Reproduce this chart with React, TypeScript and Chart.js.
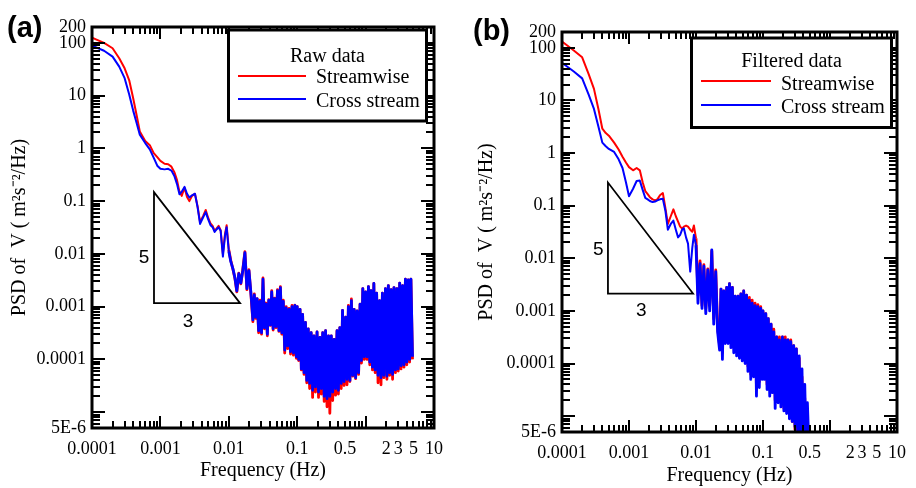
import React, { useEffect, useRef } from 'react';
import { Chart, registerables } from 'chart.js';

Chart.register(...registerables);

const SERIF = '"Liberation Serif", "Times New Roman", Times, serif';
const SANS = '"Liberation Sans", Arial, Helvetica, sans-serif';
const RED = '#ff0000';
const BLUE = '#0000ff';

// ---------- axis ticks ----------
const xTickValues = [1e-4, 1e-3, 0.01, 0.1, 0.5, 2, 3, 5, 10];
const xTickLabels = ['0.0001', '0.001', '0.01', '0.1', '0.5', '2', '3', '5', '10'];
const yTickValues = [5e-6, 1e-4, 1e-3, 0.01, 0.1, 1, 10, 100, 200];
const yTickLabels = ['5E-6', '0.0001', '0.001', '0.01', '0.1', '1', '10', '100', '200'];

// ---------- frequencies (Hz) ----------
const freqLow = [
  1e-4, 1.5e-4, 2e-4, 2.5e-4, 3e-4, 3.5e-4, 4e-4, 4.5e-4, 5e-4, 6e-4,
  7e-4, 8e-4, 9e-4, 1e-3, 1.15e-3, 1.3e-3, 1.45e-3, 1.6e-3, 1.75e-3, 1.9e-3,
  2.05e-3, 2.25e-3, 2.45e-3, 2.65e-3, 2.9e-3, 3.2e-3, 3.5e-3, 3.8e-3, 4.2e-3, 4.6e-3,
  5.0e-3, 5.4e-3, 5.8e-3, 6.2e-3, 6.6e-3, 7.1e-3, 7.6e-3, 8.2e-3, 8.8e-3, 9.3e-3,
];
const freqHigh = [
  0.0100, 0.0107, 0.0115, 0.0123, 0.0131, 0.0140, 0.0150, 0.0160, 0.0172, 0.0184,
  0.0197, 0.0210,
  0.0225, 0.0236, 0.0248, 0.0260, 0.0273, 0.0287, 0.0301, 0.0316, 0.0332, 0.0349,
  0.0366, 0.0384, 0.0404, 0.0424, 0.0445, 0.0467, 0.0490, 0.0515, 0.0541, 0.0568,
  0.0596, 0.0626, 0.0657, 0.0690, 0.0725, 0.0761, 0.0799, 0.0839, 0.0881, 0.0925,
  0.0971,
  0.100, 0.105, 0.110, 0.115, 0.120, 0.126, 0.132, 0.138, 0.145, 0.152,
  0.160, 0.168, 0.176, 0.185, 0.195, 0.205, 0.215, 0.225, 0.236, 0.248,
  0.260, 0.273, 0.287, 0.300, 0.315, 0.330, 0.347, 0.364, 0.382, 0.400,
  0.420, 0.440, 0.460, 0.485, 0.510, 0.535, 0.560, 0.590, 0.620, 0.650,
  0.680, 0.715, 0.750, 0.790, 0.830, 0.870, 0.910, 0.955, 1.00, 1.05,
  1.10, 1.15, 1.20, 1.26, 1.32, 1.38, 1.45, 1.52, 1.60, 1.68,
  1.76, 1.85, 1.95, 2.05, 2.15, 2.25, 2.36, 2.48, 2.60, 2.73,
  2.87, 3.00, 3.15, 3.30, 3.47, 3.64, 3.82, 4.00, 4.20, 4.40,
  4.60, 4.85,
];

// ---------- (a) Raw data ----------
const rawStreamLow = [
  126, 100, 79, 51, 33, 19.5, 8.9, 4.2, 2.1, 1.38,
  1.15, 0.81, 0.68, 0.58, 0.51, 0.50, 0.45, 0.355, 0.25, 0.15,
  0.126, 0.18, 0.12, 0.10, 0.126, 0.138, 0.079, 0.040, 0.052, 0.068,
  0.048, 0.038, 0.034, 0.0275, 0.030, 0.034, 0.028, 0.010, 0.024, 0.035,
];
const rawStreamHigh = [
  0.012, 0.0075, 0.0051, 0.0034, 0.0019, 0.0043, 0.0027, 0.005, 0.011, 0.0021,
  0.005, 0.0018,
  5.2e-4, 1.74e-3, 6.0e-4, 1.41e-3, 3.2e-4, 1.32e-3, 3.0e-4, 3.5e-3, 3.8e-4, 1.17e-3,
  2.8e-4, 1.35e-3, 4.4e-4, 2.0e-3, 3.6e-4, 1.45e-3, 4.0e-4, 2.1e-3, 3.4e-4, 2.4e-3,
  3.0e-4, 1.32e-3, 1.32e-4, 1.0e-3, 1.6e-4, 9.3e-4, 1.26e-4, 1.05e-3, 1.2e-4, 1.07e-3,
  1.05e-4,
  1.0e-3, 9.5e-5, 8.9e-4, 6.3e-5, 7.1e-4, 5.2e-5, 5.0e-4, 3.6e-5, 3.8e-4, 2.8e-5,
  3.2e-4, 1.9e-5, 2.8e-4, 2.4e-5, 3.3e-4, 1.9e-5, 2.6e-4, 2.2e-5, 3.2e-4, 1.6e-5,
  3.5e-4, 1.26e-5, 2.8e-4, 9.5e-6, 2.8e-4, 1.66e-5, 2.4e-4, 2.1e-5, 3.5e-4, 2.2e-5,
  4.0e-4, 2.8e-5, 8.5e-4, 3.2e-5, 6.3e-4, 3.3e-5, 1.05e-3, 3.8e-5, 1.4e-3, 4.8e-5,
  8.9e-4, 4.3e-5, 8.3e-4, 5.2e-5, 1.12e-3, 8.5e-5, 2.2e-3, 1.0e-4, 1.9e-3, 1.0e-4,
  2.4e-3, 7.9e-5, 2.0e-3, 6.3e-5, 2.75e-3, 5.6e-5, 1.8e-3, 3.6e-5, 1.3e-3, 3.3e-5,
  1.8e-3, 4.5e-5, 2.2e-3, 4.2e-5, 2.5e-3, 5.0e-5, 2.1e-3, 4.2e-5, 2.3e-3, 5.6e-5,
  2.2e-3, 6.0e-5, 2.8e-3, 6.6e-5, 2.5e-3, 7.1e-5, 3.3e-3, 7.9e-5, 3.2e-3, 8.9e-5,
  3.3e-3, 1.0e-4,
];
const rawCrossLow = [
  89, 71, 55, 35.5, 21.4, 10.5, 5.2, 3.0, 1.82, 1.26,
  0.955, 0.66, 0.47, 0.41, 0.40, 0.41, 0.38, 0.30, 0.21, 0.135,
  0.151, 0.186, 0.138, 0.117, 0.129, 0.138, 0.076, 0.037, 0.049, 0.062,
  0.045, 0.035, 0.032, 0.026, 0.029, 0.032, 0.0275, 0.0089, 0.022, 0.032,
];
const rawCrossHigh = [
  0.0112, 0.0071, 0.0052, 0.0035, 0.0020, 0.0042, 0.0028, 0.0048, 0.0105, 0.0022,
  0.0048, 0.0019,
  5.6e-4, 1.66e-3, 6.3e-4, 1.41e-3, 3.5e-4, 1.26e-3, 3.2e-4, 3.3e-3, 4.0e-4, 1.12e-3,
  3.0e-4, 1.32e-3, 4.5e-4, 1.9e-3, 3.8e-4, 1.41e-3, 4.2e-4, 2.0e-3, 3.5e-4, 2.3e-3,
  3.2e-4, 1.26e-3, 1.5e-4, 9.5e-4, 1.8e-4, 8.9e-4, 1.4e-4, 1.0e-3, 1.32e-4, 1.05e-3,
  1.12e-4,
  1.0e-3, 1.0e-4, 8.9e-4, 6.6e-5, 7.1e-4, 5.6e-5, 5.0e-4, 4.0e-5, 3.8e-4, 3.5e-5,
  3.2e-4, 2.6e-5, 2.8e-4, 3.0e-5, 3.3e-4, 2.4e-5, 2.6e-4, 2.8e-5, 3.2e-4, 2.0e-5,
  3.5e-4, 1.8e-5, 2.8e-4, 2.0e-5, 2.8e-4, 2.4e-5, 2.4e-4, 2.8e-5, 3.5e-4, 2.6e-5,
  4.0e-4, 3.5e-5, 8.5e-4, 3.8e-5, 6.3e-4, 4.2e-5, 1.0e-3, 4.0e-5, 1.3e-3, 5.0e-5,
  8.9e-4, 4.5e-5, 8.3e-4, 5.6e-5, 1.12e-3, 9.5e-5, 2.2e-3, 1.12e-4, 1.9e-3, 1.12e-4,
  2.4e-3, 8.9e-5, 2.0e-3, 7.1e-5, 2.75e-3, 6.3e-5, 1.8e-3, 5.0e-5, 1.3e-3, 4.5e-5,
  1.8e-3, 5.0e-5, 2.2e-3, 4.8e-5, 2.5e-3, 5.6e-5, 2.1e-3, 5.2e-5, 2.3e-3, 6.3e-5,
  2.2e-3, 6.6e-5, 2.8e-3, 7.6e-5, 2.5e-3, 7.9e-5, 3.3e-3, 8.9e-5, 3.2e-3, 1.0e-4,
  3.3e-3, 1.12e-4,
];

// ---------- (b) Filtered data ----------
const filtStreamLow = [
  132, 89, 66, 31.6, 16.6, 6.8, 2.9, 2.4, 2.14, 1.58,
  1.17, 0.85, 0.66, 0.54, 0.47, 0.52, 0.47, 0.28, 0.19, 0.166,
  0.145, 0.132, 0.126, 0.132, 0.158, 0.174, 0.089, 0.045, 0.063, 0.085,
  0.063, 0.050, 0.040, 0.037, 0.040, 0.042, 0.040, 0.035, 0.032, 0.042,
];
const filtStreamHigh = [
  0.024, 0.002, 0.0089, 0.00126, 0.0076, 0.00112, 0.0063, 0.00126, 0.0138, 0.0007,
  0.006, 0.0005,
  2.2e-4, 2.6e-3, 1.6e-4, 2.4e-3, 3.0e-4, 2.8e-3, 2.8e-4, 3.3e-3, 2.5e-4, 2.8e-3,
  2.0e-4, 1.9e-3, 1.8e-4, 1.9e-3, 1.6e-4, 2.1e-3, 1.4e-4, 2.4e-3, 1.26e-4, 2.0e-3,
  8.9e-5, 1.8e-3, 6.3e-5, 1.6e-3, 7.1e-5, 1.4e-3, 3.2e-5, 1.32e-3, 4.5e-5, 1.2e-3,
  6.3e-5,
  1.0e-3, 6.3e-5, 8.9e-4, 4.0e-5, 7.1e-4, 3.2e-5, 5.6e-4, 3.5e-5, 4.5e-4, 2.0e-5,
  3.2e-4, 2.2e-5, 3.2e-4, 1.8e-5, 3.2e-4, 1.4e-5, 3.2e-4, 1.26e-5, 2.8e-4, 1.0e-5,
  2.8e-4, 7.9e-6, 2.2e-4, 5.6e-6, 1.9e-4, 4.0e-6, 1.26e-4, 3.2e-6, 5.6e-5, 2.5e-6,
  2.2e-5, 2.0e-6, 8.9e-6, 2.0e-6,
];
const filtCrossLow = [
  52, 35.5, 26.3, 12.9, 6.9, 3.16, 1.58, 1.35, 1.20, 1.05,
  0.76, 0.52, 0.28, 0.151, 0.21, 0.295, 0.30, 0.20, 0.141, 0.132,
  0.123, 0.117, 0.12, 0.126, 0.132, 0.135, 0.079, 0.035, 0.045, 0.052,
  0.035, 0.025, 0.028, 0.035, 0.037, 0.025, 0.019, 0.0056, 0.0158, 0.028,
];
const filtCrossHigh = [
  0.0178, 0.0014, 0.0079, 0.00112, 0.0071, 0.00089, 0.006, 0.001, 0.0145, 0.00056,
  0.0056, 0.0004,
  1.8e-4, 2.6e-3, 1.2e-4, 2.4e-3, 2.4e-4, 2.8e-3, 2.4e-4, 3.3e-3, 2.0e-4, 2.8e-3,
  1.6e-4, 1.9e-3, 1.4e-4, 1.9e-3, 1.26e-4, 2.1e-3, 1.12e-4, 2.4e-3, 1.0e-4, 2.0e-3,
  7.1e-5, 1.6e-3, 5.0e-5, 1.4e-3, 5.6e-5, 1.26e-3, 2.4e-5, 1.2e-3, 3.5e-5, 1.12e-3,
  5.0e-5,
  1.0e-3, 5.0e-5, 8.9e-4, 3.2e-5, 7.1e-4, 2.4e-5, 5.6e-4, 2.8e-5, 4.0e-4, 1.4e-5,
  3.2e-4, 1.8e-5, 2.8e-4, 1.5e-5, 3.2e-4, 1.26e-5, 2.8e-4, 1.12e-5, 2.8e-4, 8.9e-6,
  2.6e-4, 7.9e-6, 2.2e-4, 6.3e-6, 1.9e-4, 5.0e-6, 1.4e-4, 4.0e-6, 7.9e-5, 3.2e-6,
  4.0e-5, 2.5e-6, 1.8e-5, 2.5e-6,
];

// -5/3 slope reference triangles (frequency, PSD) and their labels
const triangleA = { f0: 8.06e-4, f1: 0.0146, vTop: 0.148, vBase: 0.00116 };
const triangleALabels = { five: [5.75e-4, 0.0083], three: [0.00253, 5.07e-4] };
const triangleB = { f0: 4.85e-4, f1: 0.00903, vTop: 0.275, vBase: 0.00214 };
const triangleBLabels = { five: [3.47e-4, 0.0147], three: [0.00152, 0.00099] };

function toPoints(values: number[]) {
  const freqs = [...freqLow, ...freqHigh];
  return values.map((v, i) => ({ x: freqs[i], y: v }));
}

type PanelSpec = {
  tag: string; tagX: number; tagY: number;
  legendTitle: string;
  stream: number[]; cross: number[];
  tri: any; triLabels: any;
  padTop: number; padRight: number; yWidth: number; xHeight: number;
  yTitlePad: number; xTitlePad: number;
  leg: { dx: number; dy: number; w: number; h: number; titleBase: number; l1: number; b1: number; l2: number; b2: number; lx0: number; lx1: number; tx: number };
};

function decorPlugin(p: PanelSpec) {
  return {
    id: 'decor' + p.tag,
    afterDatasetsDraw(chart: any) {
      const { ctx, chartArea } = chart;
      const { left, right, top, bottom } = chartArea;
      const xs = chart.scales.x;
      const ys = chart.scales.y;
      ctx.save();
      ctx.strokeStyle = '#000';
      ctx.fillStyle = '#000';

      // inward tick marks on all four sides
      ctx.lineWidth = 2;
      ctx.beginPath();
      for (let e = -4; e <= 1; e++) {
        for (let m = 1; m <= 9; m++) {
          const v = m * Math.pow(10, e);
          if (v > 10.0001) continue;
          const px = Math.round(xs.getPixelForValue(v));
          const len = m === 1 ? 12 : 7;
          ctx.moveTo(px, bottom); ctx.lineTo(px, bottom - len);
          ctx.moveTo(px, top); ctx.lineTo(px, top + len);
        }
      }
      for (let e = -6; e <= 2; e++) {
        for (let m = 1; m <= 9; m++) {
          const v = m * Math.pow(10, e);
          if (v < 4.999e-6 || v > 200.01) continue;
          const py = Math.round(ys.getPixelForValue(v));
          const len = m === 1 ? 13 : 8;
          ctx.moveTo(left, py); ctx.lineTo(left + len, py);
          ctx.moveTo(right, py); ctx.lineTo(right - len, py);
        }
      }
      ctx.stroke();

      // frame
      ctx.lineWidth = 3;
      ctx.strokeRect(left, top, right - left, bottom - top);

      // slope triangle
      const t = p.tri;
      const xa = xs.getPixelForValue(t.f0);
      const xb = xs.getPixelForValue(t.f1);
      const ya = ys.getPixelForValue(t.vTop);
      const yb = ys.getPixelForValue(t.vBase);
      ctx.lineWidth = 1.8;
      ctx.lineJoin = 'miter';
      ctx.beginPath();
      ctx.moveTo(xa, ya); ctx.lineTo(xa, yb); ctx.lineTo(xb, yb); ctx.closePath();
      ctx.stroke();
      ctx.font = `19px ${SANS}`;
      ctx.textAlign = 'center';
      ctx.textBaseline = 'middle';
      ctx.fillText('5', xs.getPixelForValue(p.triLabels.five[0]), ys.getPixelForValue(p.triLabels.five[1]));
      ctx.fillText('3', xs.getPixelForValue(p.triLabels.three[0]), ys.getPixelForValue(p.triLabels.three[1]));

      // legend box
      const L = p.leg;
      const bx = right + L.dx;
      const by = top + L.dy;
      ctx.fillStyle = '#fff';
      ctx.fillRect(bx, by, L.w, L.h);
      ctx.lineWidth = 3;
      ctx.strokeRect(bx, by, L.w, L.h);
      ctx.fillStyle = '#000';
      ctx.font = `20px ${SERIF}`;
      ctx.textBaseline = 'alphabetic';
      ctx.textAlign = 'center';
      ctx.fillText(p.legendTitle, bx + L.w / 2, by + L.titleBase);
      ctx.textAlign = 'left';
      const items = [
        { color: RED, text: 'Streamwise', ly: L.l1, by: L.b1 },
        { color: BLUE, text: 'Cross stream', ly: L.l2, by: L.b2 },
      ];
      for (const it of items) {
        ctx.strokeStyle = it.color;
        ctx.lineWidth = 2;
        ctx.beginPath();
        ctx.moveTo(bx + L.lx0, by + it.ly);
        ctx.lineTo(bx + L.lx1, by + it.ly);
        ctx.stroke();
        ctx.fillStyle = '#000';
        ctx.fillText(it.text, bx + L.tx, by + it.by);
      }

      // panel tag
      ctx.font = `bold 29px ${SANS}`;
      ctx.textAlign = 'left';
      ctx.textBaseline = 'alphabetic';
      ctx.fillText(p.tag, p.tagX, p.tagY);
      ctx.restore();
    },
  };
}

// dense (noisy) spectrum segments are drawn slightly heavier so the band reads solid
const segmentWidth = (ctx: any) => (ctx.p0.parsed.x >= 0.0095 ? 2.8 : 2);

function buildConfig(p: PanelSpec): any {
  return {
    type: 'line',
    data: {
      datasets: [
        {
          label: 'Cross stream', data: toPoints(p.cross), borderColor: BLUE, backgroundColor: BLUE,
          borderWidth: 2, pointRadius: 0, tension: 0, fill: false, borderJoinStyle: 'round', order: 1,
          segment: { borderWidth: segmentWidth },
        },
        {
          label: 'Streamwise', data: toPoints(p.stream), borderColor: RED, backgroundColor: RED,
          borderWidth: 2, pointRadius: 0, tension: 0, fill: false, borderJoinStyle: 'round', order: 2,
          segment: { borderWidth: segmentWidth },
        },
      ],
    },
    options: {
      responsive: false,
      animation: false,
      devicePixelRatio: 1,
      events: [],
      layout: { padding: { top: p.padTop, right: p.padRight, left: 0, bottom: 0 } },
      plugins: { legend: { display: false }, tooltip: { enabled: false }, title: { display: false } },
      scales: {
        x: {
          type: 'logarithmic', position: 'bottom', min: 1e-4, max: 10, bounds: 'data',
          afterBuildTicks: (s: any) => { s.ticks = xTickValues.map((v) => ({ value: v })); },
          afterFit: (s: any) => { s.height = p.xHeight; },
          grid: { display: false, drawTicks: false },
          border: { display: false },
          ticks: {
            autoSkip: false, maxRotation: 0, minRotation: 0, padding: 10, color: '#000',
            font: { family: SERIF, size: 18 },
            callback: (_v: any, i: number) => xTickLabels[i],
          },
          title: {
            display: true, text: 'Frequency (Hz)', color: '#000',
            font: { family: SERIF, size: 20 }, padding: { top: 0, bottom: p.xTitlePad },
          },
        },
        y: {
          type: 'logarithmic', position: 'left', min: 5e-6, max: 200, bounds: 'data',
          afterBuildTicks: (s: any) => { s.ticks = yTickValues.map((v) => ({ value: v })); },
          afterFit: (s: any) => { s.width = p.yWidth; },
          grid: { display: false, drawTicks: false },
          border: { display: false },
          ticks: {
            autoSkip: false, padding: 6, color: '#000',
            font: { family: SERIF, size: 18 },
            callback: (_v: any, i: number) => yTickLabels[i],
          },
          title: {
            display: true, text: 'PSD of  V ( m\u00B2s\u207B\u00B2/Hz)', color: '#000',
            font: { family: SERIF, size: 20 }, padding: { top: p.yTitlePad, bottom: 0 },
          },
        },
      },
    },
    plugins: [decorPlugin(p)],
  };
}

const panelA: PanelSpec = {
  tag: '(a)', tagX: 7, tagY: 37,
  legendTitle: 'Raw data',
  stream: [...rawStreamLow, ...rawStreamHigh],
  cross: [...rawCrossLow, ...rawCrossHigh],
  tri: triangleA, triLabels: triangleALabels,
  padTop: 27, padRight: 26, yWidth: 92, xHeight: 60, yTitlePad: 8, xTitlePad: 5,
  leg: { dx: -205.5, dy: 3, w: 198, h: 91, titleBase: 31.5, l1: 46, b1: 53, l2: 69, b2: 76.5, lx0: 9.5, lx1: 77.5, tx: 87.5 },
};

const panelB: PanelSpec = {
  tag: '(b)', tagX: 13, tagY: 40,
  legendTitle: 'Filtered data',
  stream: [...filtStreamLow, ...filtStreamHigh],
  cross: [...filtCrossLow, ...filtCrossHigh],
  tri: triangleB, triLabels: triangleBLabels,
  padTop: 32, padRight: 12, yWidth: 102, xHeight: 56, yTitlePad: 15, xTitlePad: 0,
  leg: { dx: -205.5, dy: 6, w: 200, h: 89.5, titleBase: 28.5, l1: 43, b1: 51.5, l2: 67, b2: 74.5, lx0: 9.5, lx1: 79.5, tx: 89.5 },
};

export default function App() {
  const refA = useRef<HTMLCanvasElement>(null);
  const refB = useRef<HTMLCanvasElement>(null);

  useEffect(() => {
    const a = new Chart(refA.current as HTMLCanvasElement, buildConfig(panelA));
    const b = new Chart(refB.current as HTMLCanvasElement, buildConfig(panelB));
    return () => {
      a.destroy();
      b.destroy();
    };
  }, []);

  return (
    <div style={{ position: 'fixed', left: 0, top: 0, width: 916, height: 488, background: '#fff' }}>
      <canvas ref={refA} width={460} height={488}
        style={{ position: 'absolute', left: 0, top: 0, width: 460, height: 488 }} />
      <canvas ref={refB} width={456} height={488}
        style={{ position: 'absolute', left: 460, top: 0, width: 456, height: 488 }} />
    </div>
  );
}
